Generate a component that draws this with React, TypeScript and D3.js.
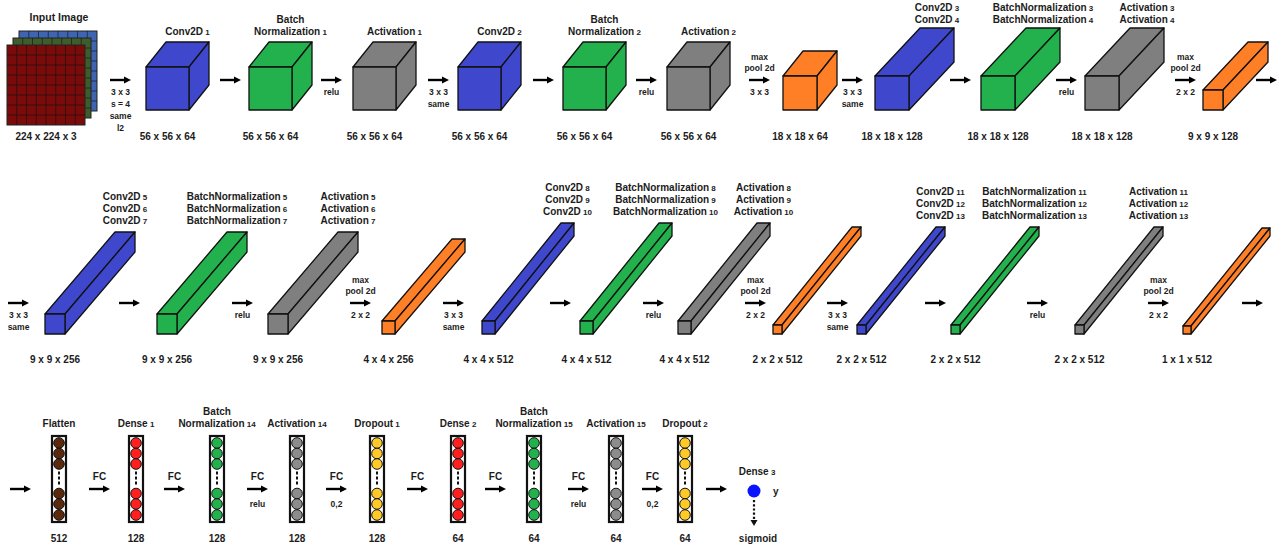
import React from 'react';
import * as d3 from 'd3';

const W = 1277;
const H = 544;
const FONT = '"Liberation Sans", Arial, sans-serif';
const INK = '#1c1c1c';

// ---- data ----
const inputShape = [224, 224, 3];
const inputTitle = 'Input Image';

const row1Titles: string[][] = [
  ['Conv2D 1'],
  ['Batch', 'Normalization 1'],
  ['Activation 1'],
  ['Conv2D 2'],
  ['Batch', 'Normalization 2'],
  ['Activation 2'],
  [],
  ['Conv2D 3', 'Conv2D 4'],
  ['BatchNormalization 3', 'BatchNormalization 4'],
  ['Activation 3', 'Activation 4'],
  [],
];
const row1Shapes = [
  [56, 56, 64], [56, 56, 64], [56, 56, 64], [56, 56, 64], [56, 56, 64], [56, 56, 64],
  [18, 18, 64], [18, 18, 128], [18, 18, 128], [18, 18, 128], [9, 9, 128],
];
const row1Kinds = ['conv', 'bn', 'act', 'conv', 'bn', 'act', 'pool', 'conv', 'bn', 'act', 'pool'];
type Op = { above?: string[]; below?: string[] };
const row1Ops: Op[] = [
  { below: ['3 x 3', 's = 4', 'same', 'l2'] },
  {},
  { below: ['relu'] },
  { below: ['3 x 3', 'same'] },
  {},
  { below: ['relu'] },
  { above: ['max', 'pool 2d'], below: ['3 x 3'] },
  { below: ['3 x 3', 'same'] },
  {},
  { below: ['relu'] },
  { above: ['max', 'pool 2d'], below: ['2 x 2'] },
  {},
];

const row2Titles: string[][] = [
  ['Conv2D 5', 'Conv2D 6', 'Conv2D 7'],
  ['BatchNormalization 5', 'BatchNormalization 6', 'BatchNormalization 7'],
  ['Activation 5', 'Activation 6', 'Activation 7'],
  [],
  ['Conv2D 8', 'Conv2D 9', 'Conv2D 10'],
  ['BatchNormalization 8', 'BatchNormalization 9', 'BatchNormalization 10'],
  ['Activation 8', 'Activation 9', 'Activation 10'],
  [],
  ['Conv2D 11', 'Conv2D 12', 'Conv2D 13'],
  ['BatchNormalization 11', 'BatchNormalization 12', 'BatchNormalization 13'],
  ['Activation 11', 'Activation 12', 'Activation 13'],
  [],
];
const row2Shapes = [
  [9, 9, 256], [9, 9, 256], [9, 9, 256], [4, 4, 256],
  [4, 4, 512], [4, 4, 512], [4, 4, 512], [2, 2, 512],
  [2, 2, 512], [2, 2, 512], [2, 2, 512], [1, 1, 512],
];
const row2Kinds = ['conv', 'bn', 'act', 'pool', 'conv', 'bn', 'act', 'pool', 'conv', 'bn', 'act', 'pool'];
const row2Ops: Op[] = [
  { below: ['3 x 3', 'same'] },
  {},
  { below: ['relu'] },
  { above: ['max', 'pool 2d'], below: ['2 x 2'] },
  { below: ['3 x 3', 'same'] },
  {},
  { below: ['relu'] },
  { above: ['max', 'pool 2d'], below: ['2 x 2'] },
  { below: ['3 x 3', 'same'] },
  {},
  { below: ['relu'] },
  { above: ['max', 'pool 2d'], below: ['2 x 2'] },
  {},
];

const denseTitles: string[][] = [
  ['Flatten'], ['Dense 1'], ['Batch', 'Normalization 14'], ['Activation 14'], ['Dropout 1'],
  ['Dense 2'], ['Batch', 'Normalization 15'], ['Activation 15'], ['Dropout 2'],
];
const denseUnits = [512, 128, 128, 128, 128, 64, 64, 64, 64];
const denseKinds = ['flat', 'dense', 'bn', 'act', 'drop', 'dense', 'bn', 'act', 'drop'];
const row3Ops: Op[] = [
  {},
  { above: ['FC'] },
  { above: ['FC'] },
  { above: ['FC'], below: ['relu'] },
  { above: ['FC'], below: ['0,2'] },
  { above: ['FC'] },
  { above: ['FC'] },
  { above: ['FC'], below: ['relu'] },
  { above: ['FC'], below: ['0,2'] },
  {},
];
const outputTitle = 'Dense 3';
const outputName = 'y';
const outputActivation = 'sigmoid';

// ---- layout ----
const row1X = [146, 249, 353, 458, 563, 667, 783, 875, 981, 1085, 1203];
const row1ArrowX = [110, 220, 321, 428, 533, 636, 749, 842, 950, 1056, 1175, 1256];
const row2X = [45, 157, 268, 382, 482, 580, 678, 773, 857, 951, 1075, 1183];
const row2ArrowX = [8, 119, 232, 350, 443, 550, 643, 745, 827, 925, 1027, 1148, 1242];
const row3X = [52, 129, 210, 290, 370, 451, 527, 609, 678];
const row3ArrowX = [10, 89, 164, 247, 326, 407, 485, 568, 642, 706];

// ---- scales ----
const faceScale = d3.scaleLinear().domain([1, 2, 4, 9, 18, 56]).range([8, 9, 13, 20, 34, 43]);
const depthX = d3.scaleLinear().domain([64, 128, 256, 512]).range([20, 45, 70, 79]);
const depthY = d3.scaleLinear().domain([64, 128, 256, 512]).range([25, 48, 82, 98]);
const layerColor = d3
  .scaleOrdinal<string, string>()
  .domain(['conv', 'bn', 'act', 'pool'])
  .range(['#3f48cc', '#22b14c', '#7f7f7f', '#ff7f27']);
const neuronColor = d3
  .scaleOrdinal<string, string>()
  .domain(['flat', 'dense', 'bn', 'act', 'drop'])
  .range(['#5b2a0e', '#ff1f1f', '#22b14c', '#8c8c8c', '#ffc927']);
const channelColor = ['#7a0b0b', '#3d5e2c', '#3f64b2'];

const parseTitle = (s: string): [string, string] => {
  const m = s.match(/^(.*?)( \d+)$/);
  return m ? [m[1], m[2]] : [s, ''];
};

const Title = ({ lines, cx, lastY, size = 10, gap = 12 }: { lines: string[]; cx: number; lastY: number; size?: number; gap?: number }) => (
  <g>
    {lines.map((ln, i) => {
      const [main, sub] = parseTitle(ln);
      return (
        <text key={i} x={cx} y={lastY - (lines.length - 1 - i) * gap} textAnchor="middle" fontSize={size} fontWeight="bold" fill={INK}>
          {main}
          {sub && <tspan fontSize={size * 0.8}>{sub}</tspan>}
        </text>
      );
    })}
  </g>
);

const Arrow = ({ x, y, op, len = 21, below = 8.5, belowGap = 15 }: { x: number; y: number; op: Op; len?: number; below?: number; belowGap?: number }) => {
  const cx = x + len / 2;
  const up = op.above || [];
  const down = op.below || [];
  return (
    <g>
      <line x1={x} y1={y} x2={x + len - 5} y2={y} stroke="#000" strokeWidth={2.4} />
      <polygon points={`${x + len - 7},${y - 3.6} ${x + len},${y} ${x + len - 7},${y + 3.6}`} fill="#000" />
      {up.map((t, i) => (
        <text key={'a' + i} x={cx} y={y - 9 - (up.length - 1 - i) * 11} textAnchor="middle" fontSize={up[0] === 'FC' ? 10 : 8.5} fontWeight="bold" fill={INK}>
          {t}
        </text>
      ))}
      {down.map((t, i) => (
        <text key={'b' + i} x={cx} y={y + belowGap + i * 12} textAnchor="middle" fontSize={below} fontWeight="bold" fill={INK}>
          {t}
        </text>
      ))}
    </g>
  );
};

const Row = ({ titles, shapes, kinds, xs, bottom, labelMax, labelOff, sizeY }: any) => (
  <g>
    {shapes.map((s: number[], i: number) => {
      const w = faceScale(s[0]);
      const h = faceScale(s[1]);
      const dx = depthX(s[2]);
      const dy = depthY(s[2]);
      const x = xs[i];
      const top = bottom - h;
      const fill = layerColor(kinds[i]);
      const backTop = top - dy;
      const lines: string[] = titles[i];
      return (
        <g key={i} stroke="#111" strokeWidth={1.3} strokeLinejoin="round">
          <polygon points={`${x},${top} ${x + dx},${top - dy} ${x + w + dx},${top - dy} ${x + w},${top}`} fill={fill} />
          <polygon points={`${x + w},${top} ${x + w + dx},${top - dy} ${x + w + dx},${bottom - dy} ${x + w},${bottom}`} fill={fill} />
          <rect x={x} y={top} width={w} height={h} fill={fill} />
          <g stroke="none">
            {lines.length > 0 && (
              <Title lines={lines} cx={x + dx + w / 2} lastY={Math.min(labelMax, backTop - labelOff)} />
            )}
            <text x={x + w / 2} y={sizeY} textAnchor="middle" fontSize={10} fontWeight="bold" fill={INK}>
              {s.join(' x ')}
            </text>
          </g>
        </g>
      );
    })}
  </g>
);

const circleOffsets = [7, 17.5, 28, 57.5, 68, 79];
const dotOffsets = [37, 42, 47];

const App = () => {
  const inX = 7;
  const inY = 45;
  const inW = 78;
  const inH = 80;
  const cells = 8;
  const gridX = d3.scaleLinear().domain([0, cells]).range([0, inW]);
  const gridY = d3.scaleLinear().domain([0, cells]).range([0, inH]);
  const channels = d3.range(inputShape[2]).reverse();

  const colTop = 436;
  const colH = 86;
  const colW = 14;
  const arrowY3 = 489;
  const outX = 754;
  const outY = 491;

  return (
    <svg
      width={W}
      height={H}
      viewBox={`0 0 ${W} ${H}`}
      style={{ position: 'absolute', left: 0, top: 0, background: '#fff', fontFamily: FONT }}
    >
      <rect width={W} height={H} fill="#fff" />

      {/* input image */}
      {channels.map((c) => {
        const ox = inX + c * 6;
        const oy = inY - c * 7;
        return (
          <g key={c}>
            <rect x={ox} y={oy} width={inW} height={inH} fill={channelColor[c]} stroke="#222" strokeWidth={1} />
            {d3.range(1, cells).map((k) => (
              <g key={k} stroke="#111" strokeOpacity={0.6} strokeWidth={1}>
                <line x1={ox + gridX(k)} y1={oy} x2={ox + gridX(k)} y2={oy + inH} />
                <line x1={ox} y1={oy + gridY(k)} x2={ox + inW} y2={oy + gridY(k)} />
              </g>
            ))}
          </g>
        );
      })}
      <text x={59} y={21} textAnchor="middle" fontSize={10.5} fontWeight="bold" fill={INK}>
        {inputTitle}
      </text>
      <text x={inX + inW / 2} y={140} textAnchor="middle" fontSize={10} fontWeight="bold" fill={INK}>
        {inputShape.join(' x ')}
      </text>

      {/* row 1 */}
      {row1Ops.map((op, i) => (
        <Arrow key={i} x={row1ArrowX[i]} y={80} op={op} />
      ))}
      <Row titles={row1Titles} shapes={row1Shapes} kinds={row1Kinds} xs={row1X} bottom={110} labelMax={35} labelOff={5} sizeY={140} />

      {/* row 2 */}
      {row2Ops.map((op, i) => (
        <Arrow key={i} x={row2ArrowX[i]} y={303} op={op} />
      ))}
      <Row titles={row2Titles} shapes={row2Shapes} kinds={row2Kinds} xs={row2X} bottom={334} labelMax={226} labelOff={8} sizeY={363} />

      {/* row 3 */}
      {row3Ops.map((op, i) => (
        <Arrow key={i} x={row3ArrowX[i]} y={arrowY3} op={op} belowGap={18} />
      ))}
      {denseUnits.map((u, i) => {
        const x = row3X[i];
        const cx = x + colW / 2;
        const fill = neuronColor(denseKinds[i]);
        return (
          <g key={i}>
            <rect x={x} y={colTop} width={colW} height={colH} fill="#fff" stroke="#111" strokeWidth={2.2} />
            {circleOffsets.map((o, k) => (
              <circle key={k} cx={cx} cy={colTop + o} r={5.3} fill={fill} stroke="#111" strokeWidth={1} />
            ))}
            {dotOffsets.map((o, k) => (
              <rect key={'d' + k} x={cx - 1} y={colTop + o - 1.5} width={2} height={3} fill="#111" />
            ))}
            <Title lines={denseTitles[i]} cx={cx} lastY={427} />
            <text x={cx} y={542} textAnchor="middle" fontSize={10} fontWeight="bold" fill={INK}>
              {u}
            </text>
          </g>
        );
      })}

      {/* output neuron */}
      <Title lines={[outputTitle]} cx={757} lastY={475} />
      <circle cx={outX} cy={outY} r={6.5} fill="#0a14ff" />
      <text x={773} y={495} fontSize={10} fontWeight="bold" fill={INK}>
        {outputName}
      </text>
      <line x1={outX} y1={500} x2={outX} y2={520} stroke="#111" strokeWidth={2.2} strokeDasharray="2.2,2" />
      <polygon points={`${outX - 3.5},${520} ${outX + 3.5},${520} ${outX},${526}`} fill="#111" />
      <text x={758} y={542} textAnchor="middle" fontSize={10} fontWeight="bold" fill={INK}>
        {outputActivation}
      </text>
    </svg>
  );
};

export default App;
